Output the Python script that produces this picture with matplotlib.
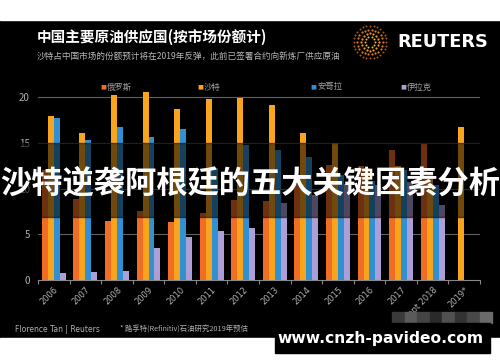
import numpy as np
import matplotlib
matplotlib.use("Agg")
import matplotlib.pyplot as plt
from matplotlib.patches import Rectangle

plt.rcParams['font.family'] = ['Noto Sans CJK SC', 'DejaVu Sans']

years = ['2006', '2007', '2008', '2009', '2010', '2011', '2012', '2013',
         '2014', '2015', '2016', '2017', 'Sept 2018', '2019*']
russia = [12.0, 8.9, 6.5, 7.5, 6.4, 7.3, 8.8, 8.6, 10.5, 12.6, 12.5, 14.2, 14.9, np.nan]
saudi = [18.0, 16.1, 20.3, 20.6, 18.7, 19.8, 19.9, 19.1, 16.1, 15.0, 12.3, 12.5, 11.7, 16.7]
angola = [17.7, 15.3, 16.7, 15.7, 16.5, 12.3, 14.8, 14.2, 13.5, 11.5, 10.8, 12.0, 10.4, np.nan]
iraq = [0.8, 0.9, 1.0, 3.5, 4.7, 5.4, 5.7, 8.4, 9.3, 10.5, 10.4, 10.7, 8.2, np.nan]

series = [('俄罗斯', russia, '#f26d24'), ('沙特', saudi, '#f8a51d'),
          ('安哥拉', angola, '#2f90d2'), ('伊拉克', iraq, '#ad9fd5')]

W, H = 500, 362
fig = plt.figure(figsize=(5, 3.62), dpi=100, facecolor='black')

def fx(px):
    return px / W

def fy(py):
    return 1 - py / H

# white strips at top and bottom of the screenshot
fig.patches.append(Rectangle((0, fy(20)), 1, 20 / H, transform=fig.transFigure,
                             color='white', zorder=1))
fig.patches.append(Rectangle((0, 0), 1, fy(338), transform=fig.transFigure,
                             color='white', zorder=1))

ax = fig.add_axes([fx(38), fy(280), fx(480) - fx(38), fy(79) - fy(280)])
ax.set_facecolor('black')

x = np.arange(len(years))
bw = 0.19
for i, (name, vals, col) in enumerate(series):
    ax.bar(x + (i - 1.5) * bw, vals, bw, color=col, zorder=2)

ax.set_xlim(-0.5, len(years) - 0.5)
ax.set_ylim(0, 22)
ax.set_yticks([0, 5, 10, 15, 20])
for v in [5, 10, 15, 20]:
    ax.axhline(v, color='#606060', lw=0.8, zorder=1)
ax.tick_params(axis='y', length=0, colors='#b0b0b0', labelsize=7, pad=6)
ax.set_xticks(x)
ax.set_xticklabels(years, rotation=45, ha='right', va='top',
                   rotation_mode='anchor', fontsize=6, color='#b0b0b0',
                   family='DejaVu Sans')
ax.tick_params(axis='x', length=0, pad=4)
ax.set_xticks(np.arange(-0.5, len(years)), minor=True)
ax.tick_params(axis='x', which='minor', length=3, color='#888888', width=0.8)
for s in ['top', 'right', 'left']:
    ax.spines[s].set_visible(False)
ax.spines['bottom'].set_color('#888888')
ax.spines['bottom'].set_linewidth(0.8)

# legend
leg_x = [100, 197, 310, 400]
for (name, vals, col), lx in zip(series, leg_x):
    fig.text(fx(lx), fy(87), '■', color=col, fontsize=4.5, va='center',
             family='DejaVu Sans')
    fig.text(fx(lx + 7), fy(87), name, color='#a0a0a0', fontsize=6, va='center')

# header
fig.text(fx(37), fy(37), '中国主要原油供应国(按市场份额计)', color='white',
         fontsize=10.5, fontweight='bold', va='center')
fig.text(fx(37), fy(56), '沙特占中国市场的份额预计将在2019年反弹，此前已签署合约向新炼厂供应原油',
         color='#b8b8b8', fontsize=6.2, va='center')

# reuters logo
lax = fig.add_axes([fx(352), fy(60), fx(36), fy(24) - fy(60)])
lax.set_xlim(-1, 1)
lax.set_ylim(-1, 1)
lax.axis('off')
for r, n, c, s in [(0.3, 10, '#f7b54a', 2.0), (0.5, 16, '#f39a1e', 2.5),
                   (0.7, 22, '#e07b14', 2.5), (0.9, 28, '#b5560c', 2.0)]:
    ang = np.linspace(0, 2 * np.pi, n, endpoint=False)
    lax.scatter(r * np.cos(ang), r * np.sin(ang), s=s, color=c, lw=0)
fig.text(fx(397), fy(42), 'REUTERS', color='white', fontsize=12.8,
         fontweight='bold', va='center', family='DejaVu Sans')

# footer
fig.text(fx(15), fy(330), 'Florence Tan | Reuters', color='#b0b0b0', fontsize=5.5,
         va='center', family='DejaVu Sans')
fig.text(fx(120), fy(330), '* 路孚特(Refinitiv)石油研究2019年预估', color='#b0b0b0',
         fontsize=5.3, va='center')

# overlay band with headline
fig.patches.append(Rectangle((0, fy(217)), 1, (217 - 143) / H, transform=fig.transFigure,
                             color='black', alpha=0.55, zorder=4))
fig.text(0.5, fy(183), '沙特逆袭阿根廷的五大关键因素分析', color='white',
         fontsize=22.5, fontweight='bold', ha='center', va='center', zorder=6)

# mosaic + watermark
greys = ['#3a3a3a', '#5a5a5a', '#444444', '#2a2a2a', '#505050', '#333333', '#484848', '#6a6a6a']
for k, g in enumerate(greys):
    fig.patches.append(Rectangle((fx(392 + k * 12.5), fy(323)), 12.5 / W, 11 / H,
                                 transform=fig.transFigure, color=g, zorder=4))
fig.patches.append(Rectangle((fx(275), fy(353)), (490 - 275) / W, 30 / H,
                             transform=fig.transFigure, color='black', zorder=5))
fig.text(fx(381), fy(338), 'www.cnzh-pavideo.com', color='white', fontsize=11.2,
         fontweight='bold', ha='center', va='center', family='DejaVu Sans', zorder=6)

fig.savefig('out.png', dpi=100, facecolor='black')
